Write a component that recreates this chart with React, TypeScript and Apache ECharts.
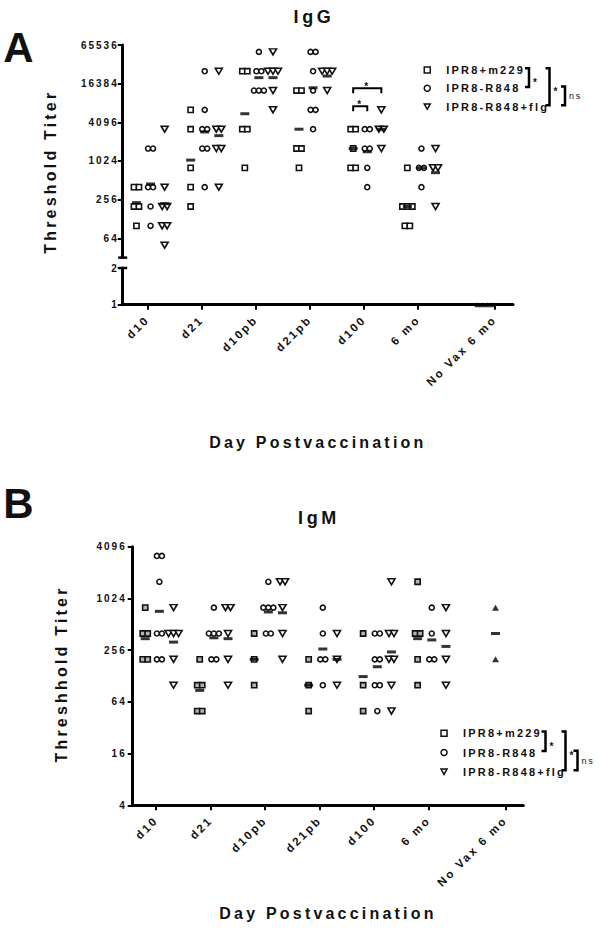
import React, { useEffect, useRef } from 'react';
import * as echarts from 'echarts';

// ---------- data ----------
const DAYS = ['d10', 'd21', 'd10pb', 'd21pb', 'd100', '6 mo', 'No Vax 6 mo'];
const GROUPS = ['IPR8+m229', 'IPR8-R848', 'IPR8-R848+flg'];

const IGG_TICKS = [64, 256, 1024, 4096, 16384, 65536];
const IGG_BREAK_TICKS = [1, 2];
const IGM_TICKS = [4, 16, 64, 256, 1024, 4096];

// IgG threshold titers, one list per day (d10, d21, d10pb, d21pb, d100, 6 mo)
const IGG_M229 = [
  [400, 400, 200, 200, 100],
  [6400, 3200, 800, 400, 200],
  [25600, 25600, 3200, 3200, 800],
  [12800, 12800, 1600, 1600, 800],
  [3200, 3200, 1600, 800, 800],
  [800, 200, 200, 200, 100, 100],
];
const IGG_R848 = [
  [1600, 1600, 400, 400, 200, 100],
  [25600, 6400, 3200, 3200, 1600, 1600, 400],
  [51200, 25600, 25600, 12800, 12800, 12800],
  [51200, 51200, 25600, 12800, 6400, 6400, 3200],
  [3200, 3200, 1600, 1600, 800, 400],
  [1600, 800, 800, 400],
];
const IGG_FLG = [
  [3200, 400, 200, 200, 100, 100, 50],
  [25600, 3200, 3200, 1600, 1600, 400],
  [51200, 25600, 25600, 25600, 12800, 6400],
  [25600, 25600, 25600, 12800],
  [6400, 3200, 3200, 1600],
  [1600, 800, 800, 200],
];
const IGG_NOVAX = [1, 1, 1, 1];

// IgM threshold titers
const IGM_M229 = [
  [800, 400, 400, 200, 200],
  [200, 100, 100, 50, 50],
  [400, 200, 100],
  [200, 100, 50],
  [400, 100, 50],
  [1600, 400, 400, 200, 100],
];
const IGM_R848 = [
  [3200, 3200, 1600, 400, 400, 200, 200],
  [800, 400, 400, 400, 200, 200],
  [1600, 800, 800, 800, 400, 400],
  [800, 400, 200, 200, 100],
  [400, 400, 200, 200, 100, 100, 50],
  [800, 400, 200, 200],
];
const IGM_FLG = [
  [800, 400, 400, 400, 200, 100],
  [800, 800, 400, 200, 100],
  [1600, 1600, 800, 400, 200],
  [400, 200, 100],
  [1600, 400, 400, 200, 200, 100, 50],
  [800, 400, 200, 100],
];
const IGM_NOVAX = [800, 200];

// significance annotations on IgG d100 (group index from/to, bracket level in titer)
const IGG_SIG = [
  { day: 4, from: 0, to: 2, level: 13900, text: '*' },
  { day: 4, from: 0, to: 1, level: 7300, text: '*' },
];
const LEGEND_BRACKETS = [
  { from: 0, to: 1, text: '*' },
  { from: 0, to: 2, text: '*' },
  { from: 1, to: 2, text: 'ns' },
];

// ---------- layout ----------
const DAY_X = [0, 1, 2, 3, 4, 5, 6.41];
const OFFSET = [-0.2, 0.06, 0.32];
const NOVAX_OFFSET = -0.18;
const STEP = 0.092;
const FONT = '"Liberation Sans", Arial, Helvetica, sans-serif';
const INK = '#111';
const TRI_DOWN = 'path://M0,0L10,0L5,9Z';

function spread(values: number[], center: number): number[][] {
  const counts = new Map<number, number>();
  values.forEach((v) => counts.set(v, (counts.get(v) || 0) + 1));
  const seen = new Map<number, number>();
  return values.map((v) => {
    const n = counts.get(v)!;
    const i = seen.get(v) || 0;
    seen.set(v, i + 1);
    return [center + (i - (n - 1) / 2) * STEP, v];
  });
}
function geoMean(vals: number[]) {
  return Math.pow(2, vals.reduce((s, v) => s + Math.log2(v), 0) / vals.length);
}

const SYMBOLS = ['rect', 'circle', 'triangle'];
const SIZES: any[] = [5.2, 5, [7, 6]];
const ROT = [0, 0, 180];

function panelSeries(xi: number, yi: number, sets: number[][][], squareFill: string) {
  const out: any[] = [];
  sets.forEach((days, g) => {
    const pts: number[][] = [];
    days.forEach((vals, d) => pts.push(...spread(vals, DAY_X[d] + OFFSET[g])));
    out.push({
      type: 'scatter', name: GROUPS[g], xAxisIndex: xi, yAxisIndex: yi,
      symbol: SYMBOLS[g], symbolSize: SIZES[g], symbolRotate: ROT[g],
      itemStyle: { color: g === 0 ? squareFill : '#fff', borderColor: INK, borderWidth: 1.6, opacity: 1 },
      emphasis: { disabled: true }, clip: false, z: 3, data: pts,
    });
  });
  sets.forEach((days, g) => {
    out.push({
      type: 'scatter', name: 'mean ' + GROUPS[g], xAxisIndex: xi, yAxisIndex: yi,
      symbol: 'rect', symbolSize: [9, 3], itemStyle: { color: '#000' },
      emphasis: { disabled: true }, clip: false, z: 4,
      data: days.map((vals, d) => [DAY_X[d] + OFFSET[g], geoMean(vals)]),
    });
  });
  return out;
}

const axisLine = { show: true, onZero: false, lineStyle: { color: '#000', width: 3 } };
const tickLine = { color: '#000', width: 2 };

function xAxisDef(gridIndex: number, show: boolean, min: number, max: number, name?: string, nameGap?: number) {
  const nearest = (v: number) => {
    let best = 0;
    DAY_X.forEach((x, i) => { if (Math.abs(x - v) < Math.abs(DAY_X[best] - v)) best = i; });
    return best;
  };
  return {
    type: 'value', gridIndex, min, max, show,
    axisLine,
    axisTick: { show: true, customValues: DAY_X, length: 5, lineStyle: tickLine },
    axisLabel: {
      customValues: DAY_X, formatter: (v: number) => DAYS[nearest(v)], rotate: 45,
      fontSize: 11.5, fontWeight: 'bold', color: INK, margin: 13, fontFamily: FONT,
    },
    splitLine: { show: false },
    name, nameLocation: 'middle', nameGap, nameMoveOverlap: false,
    nameTextStyle: { fontSize: 16, fontWeight: 'bold', color: INK, verticalAlign: 'middle', fontFamily: FONT },
  };
}
function yAxisDef(gridIndex: number, type: string, min: number, max: number, ticks: number[], margin: number) {
  return {
    type, logBase: 2, gridIndex, min, max,
    axisLine,
    axisTick: { show: true, customValues: ticks, length: 5, lineStyle: tickLine },
    axisLabel: {
      customValues: ticks, formatter: (v: number) => String(Math.round(v)),
      fontSize: 10, fontWeight: 'bold', color: INK, margin, fontFamily: FONT,
    },
    splitLine: { show: false },
  };
}
function legendDef(left: number, top: number, gap: number) {
  return {
    orient: 'vertical', left, top, itemWidth: 6, itemHeight: 6, itemGap: gap, selectedMode: false,
    symbolRotate: 0,
    itemStyle: { borderWidth: 1.5, borderColor: INK },
    data: [{ name: GROUPS[0], icon: 'rect' }, { name: GROUPS[1], icon: 'circle' }, { name: GROUPS[2], icon: TRI_DOWN }],
    textStyle: { fontSize: 11, fontWeight: 'bold', color: INK, lineHeight: 12, padding: [0, 0, 0, 11], fontFamily: FONT },
  };
}

// legend rows: intended centre of first row, and gap between rows
const LEG_A = { left: 418.5, row0: 70, gap: 6.3, xs: [529, 549.5, 565] };
const LEG_B = { left: 435.3, row0: 733.3, gap: 7.2, xs: [545.5, 565.5, 577.5] };

function buildOption() {
  return {
    animation: false,
    textStyle: { fontFamily: FONT },
    grid: [
      { left: 122.7, top: 45, width: 390.3, height: 212.6, containLabel: false, outerBoundsMode: 'none' },
      { left: 122.7, top: 268, width: 390.3, height: 36.7, containLabel: false, outerBoundsMode: 'none' },
      { left: 132.7, top: 546.7, width: 390.6, height: 258.6, containLabel: false, outerBoundsMode: 'none' },
    ],
    xAxis: [
      xAxisDef(0, false, -0.454, 6.75),
      xAxisDef(1, true, -0.454, 6.75, 'Day Postvaccination', 138),
      xAxisDef(2, true, -0.43, 6.74, 'Day Postvaccination', 108),
    ],
    yAxis: [
      yAxisDef(0, 'log', 32, 65536, IGG_TICKS, 4),
      yAxisDef(1, 'value', 1, 2, IGG_BREAK_TICKS, 4),
      yAxisDef(2, 'log', 4, 4096, IGM_TICKS, 6),
    ],
    legend: [
      legendDef(LEG_A.left, LEG_A.row0 - 11, LEG_A.gap),
      legendDef(LEG_B.left, LEG_B.row0 - 11, LEG_B.gap),
    ],
    series: [
      ...panelSeries(0, 0, [IGG_M229, IGG_R848, IGG_FLG], '#fff'),
      {
        type: 'scatter', name: 'No Vax IgG', xAxisIndex: 1, yAxisIndex: 1, symbol: 'triangle', symbolSize: [6, 5],
        itemStyle: { color: '#000' }, clip: false, z: 3, emphasis: { disabled: true },
        data: spread(IGG_NOVAX, DAY_X[6] + NOVAX_OFFSET),
      },
      ...panelSeries(2, 2, [IGM_M229, IGM_R848, IGM_FLG], '#b4b4b4'),
      {
        type: 'scatter', name: 'No Vax IgM', xAxisIndex: 2, yAxisIndex: 2, symbol: 'triangle', symbolSize: [7, 6],
        itemStyle: { color: '#000' }, clip: false, z: 3, emphasis: { disabled: true },
        data: spread(IGM_NOVAX, DAY_X[6] + NOVAX_OFFSET),
      },
      {
        type: 'scatter', name: 'mean No Vax IgM', xAxisIndex: 2, yAxisIndex: 2, symbol: 'rect', symbolSize: [9, 3],
        itemStyle: { color: '#000' }, clip: false, z: 4, emphasis: { disabled: true },
        data: [[DAY_X[6] + NOVAX_OFFSET, geoMean(IGM_NOVAX)]],
      },
    ],
  };
}

function buildGraphic(chart: any) {
  const px = (g: number, p: number[]) => chart.convertToPixel({ gridIndex: g }, p) as number[];
  const els: any[] = [];
  const text = (x: number, y: number, t: string, size: number, extra: any = {}) => ({
    type: 'text', x, y, silent: true,
    style: {
      text: t, fontSize: size, fontWeight: 'bold', fontFamily: FONT, fill: INK,
      align: 'center', verticalAlign: 'middle', textAlign: 'center', textVerticalAlign: 'middle', ...extra,
    },
  });
  const bracket = (pts: number[][], w = 2.5) => ({
    type: 'polyline', silent: true, shape: { points: pts },
    style: { stroke: '#000', lineWidth: w, fill: 'none' },
  });

  els.push(text(22.5, 47, 'A', 42));
  els.push(text(22.5, 503, 'B', 42));
  els.push(text(314, 17, 'IgG', 18));
  els.push(text(319, 518, 'IgM', 18));
  els.push({ ...text(50.8, 171.7, 'Threshold Titer', 16), rotation: Math.PI / 2 });
  els.push({ ...text(61.7, 674, 'Threshhold Titer', 16), rotation: Math.PI / 2 });

  // axis-break caps
  const c1 = px(0, [-0.454, 32]);
  const c2 = px(1, [-0.454, 2]);
  [c1, c2].forEach((c) => els.push({
    type: 'line', silent: true, shape: { x1: c[0] - 4.5, y1: c[1], x2: c[0] + 4.5, y2: c[1] },
    style: { stroke: '#000', lineWidth: 2.5 },
  }));

  // significance brackets (IgG d100)
  IGG_SIG.forEach((s) => {
    const a = px(0, [DAY_X[s.day] + OFFSET[s.from], s.level]);
    const b = px(0, [DAY_X[s.day] + OFFSET[s.to], s.level]);
    els.push(bracket([[a[0], a[1] + 5], [a[0], a[1]], [b[0], b[1]], [b[0], b[1] + 5]], 2));
    els.push(text((a[0] + b[0]) / 2, a[1] - 2, s.text, 10));
  });

  // legend comparison brackets
  [LEG_A, LEG_B].forEach((L) => {
    const rowY = (i: number) => L.row0 + i * (12 + L.gap);
    LEGEND_BRACKETS.forEach((b, k) => {
      const x = L.xs[k];
      const y1 = rowY(b.from) - 1.7;
      const y2 = rowY(b.to) - 1.4;
      els.push(bracket([[x - 4, y1], [x, y1], [x, y2], [x - 4, y2]]));
      const mid = (y1 + y2) / 2;
      if (b.text === 'ns') {
        els.push(text(x + 4, mid, b.text, 9, { align: 'left', textAlign: 'left', fontWeight: 'normal' }));
      } else {
        els.push(text(x + 4, mid + 5, b.text, 10, { align: 'left', textAlign: 'left' }));
      }
    });
  });
  return els;
}

export default function App() {
  const ref = useRef<HTMLDivElement>(null);
  useEffect(() => {
    const chart = echarts.init(ref.current!, null, { renderer: 'svg' });
    chart.setOption(buildOption() as any);
    chart.setOption({ graphic: buildGraphic(chart) } as any);
    return () => chart.dispose();
  }, []);
  return (
    <>
      <style>{'#chart text { letter-spacing: 0.2em; }'}</style>
      <div
        id="chart"
        ref={ref}
        style={{ position: 'absolute', left: 0, top: 0, width: 604, height: 932, background: '#fff' }}
      />
    </>
  );
}
